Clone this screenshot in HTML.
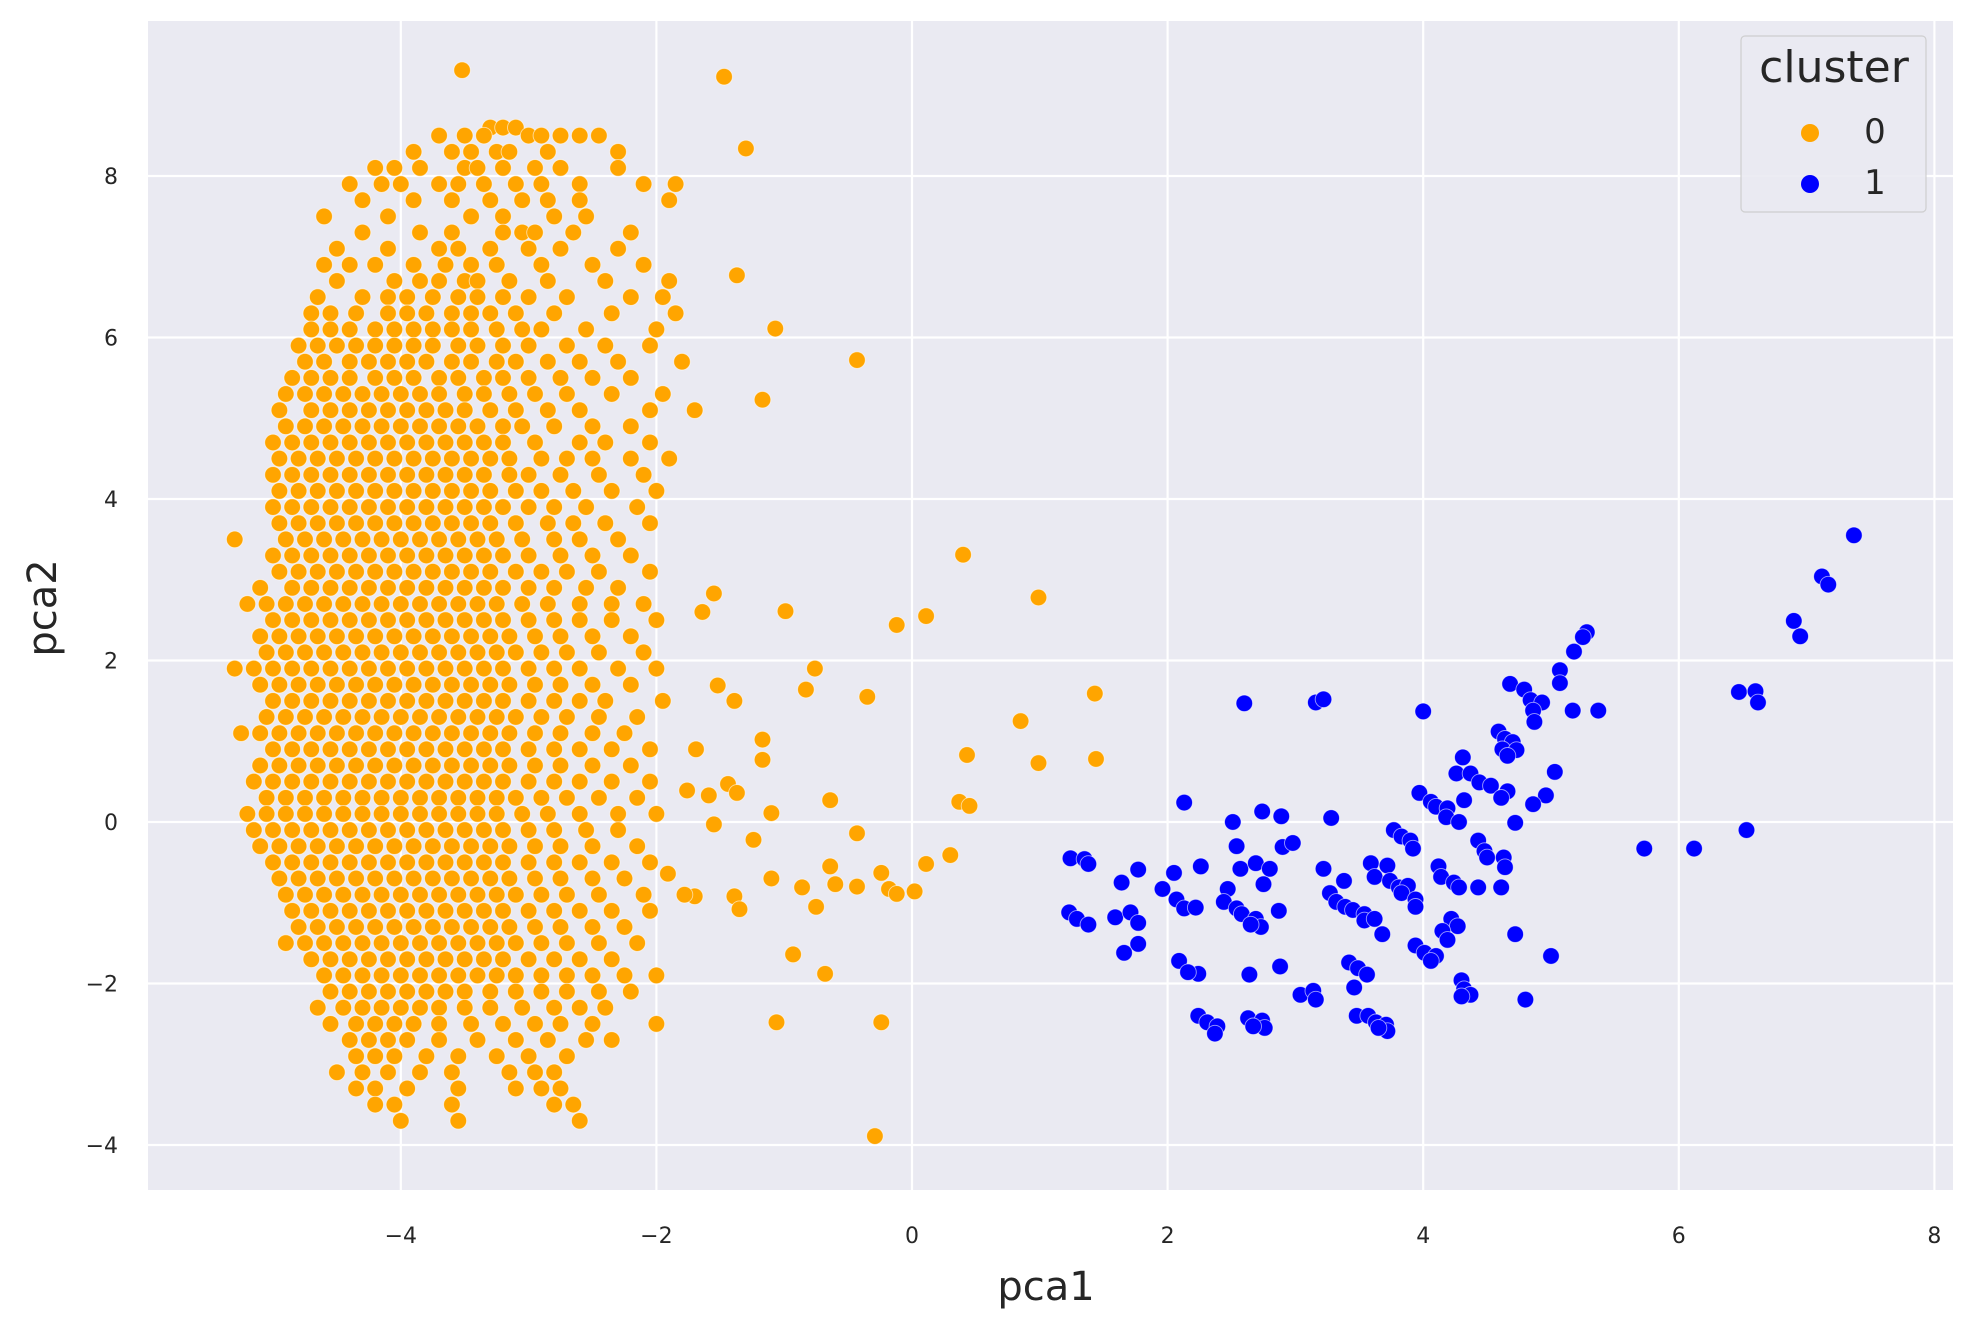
<!DOCTYPE html>
<html><head><meta charset="utf-8"><style>
html,body{margin:0;padding:0;background:#fff;}
svg{display:block;}
text{font-family:"DejaVu Sans","Liberation Sans",sans-serif;fill:#262626;}
</style></head><body>
<svg id="chart" width="1972" height="1323" viewBox="0 0 1972 1323" xmlns="http://www.w3.org/2000/svg">
<rect x="148" y="21" width="1805" height="1169" fill="#EAEAF2"/>
<g id="grid"></g>
<g id="xticks"></g>
<g id="yticks"></g>
<g id="marks"></g>
<text x="1046" y="1300" font-size="40" text-anchor="middle">pca1</text>
<text x="0" y="0" font-size="40" text-anchor="middle" transform="translate(56,608) rotate(-90)">pca2</text>
<g>
<rect x="1741" y="36" width="185" height="176" rx="4" fill="#EAEAF2" stroke="#cccccc" stroke-width="1.2" opacity="0.9"/>
<text x="1834" y="82" font-size="44" text-anchor="middle">cluster</text>
<g><circle cx="1810" cy="133" r="9" fill="#FFA500"/><text x="1875" y="143" font-size="34" text-anchor="middle">0</text></g>
<g><circle cx="1810" cy="184" r="9" fill="#0000FF"/><text x="1875" y="194" font-size="34" text-anchor="middle">1</text></g>
</g>
</svg>
<script>
const xTicks = [-4,-2,0,2,4,6,8];
const yTicks = [-4,-2,0,2,4,6,8];
const orangeRows = [
[8.6,[-3.3,-3.2,-3.1]],
[8.5,[-3.7,-3.5,-3.35,-3.0,-2.9,-2.75,-2.6,-2.45]],
[8.3,[-3.9,-3.6,-3.45,-3.25,-3.15,-2.85,-2.3]],
[8.1,[-4.2,-4.05,-3.85,-3.5,-3.4,-3.2,-2.95,-2.75,-2.3]],
[7.9,[-4.4,-4.15,-4.0,-3.7,-3.55,-3.35,-3.1,-2.9,-2.6,-2.1,-1.85]],
[7.7,[-4.3,-3.9,-3.6,-3.3,-3.05,-2.85,-2.6,-1.9]],
[7.5,[-4.6,-4.1,-3.45,-3.2,-2.8,-2.55]],
[7.3,[-4.3,-3.85,-3.6,-3.2,-3.05,-2.95,-2.65,-2.2]],
[7.1,[-4.5,-4.1,-3.7,-3.55,-3.3,-3.0,-2.75,-2.3]],
[6.9,[-4.6,-4.4,-4.2,-3.9,-3.65,-3.45,-3.25,-2.9,-2.5,-2.1]],
[6.7,[-4.5,-4.05,-3.85,-3.7,-3.5,-3.4,-3.15,-2.85,-2.4,-1.9]],
[6.5,[-4.65,-4.3,-4.1,-3.95,-3.75,-3.55,-3.4,-3.2,-3.0,-2.7,-2.2,-1.95]],
[6.3,[-4.7,-4.55,-4.35,-4.1,-3.95,-3.8,-3.6,-3.45,-3.3,-3.1,-2.8,-2.35,-1.85]],
[6.1,[-4.7,-4.55,-4.4,-4.2,-4.05,-3.9,-3.75,-3.6,-3.45,-3.25,-3.05,-2.9,-2.55,-2.0]],
[5.9,[-4.8,-4.65,-4.5,-4.35,-4.2,-4.05,-3.9,-3.75,-3.55,-3.4,-3.2,-3.0,-2.7,-2.4,-2.05]],
[5.7,[-4.75,-4.6,-4.4,-4.25,-4.1,-3.95,-3.8,-3.6,-3.45,-3.25,-3.1,-2.85,-2.6,-2.3,-1.8]],
[5.5,[-4.85,-4.7,-4.55,-4.4,-4.2,-4.05,-3.9,-3.7,-3.55,-3.35,-3.2,-3.0,-2.75,-2.5,-2.2]],
[5.3,[-4.9,-4.75,-4.6,-4.45,-4.3,-4.15,-4.0,-3.85,-3.7,-3.5,-3.35,-3.15,-2.95,-2.7,-2.35,-1.95]],
[5.1,[-4.95,-4.7,-4.55,-4.4,-4.25,-4.1,-3.95,-3.8,-3.65,-3.5,-3.3,-3.1,-2.85,-2.6,-2.05,-1.7]],
[4.9,[-4.9,-4.75,-4.6,-4.45,-4.3,-4.15,-4.0,-3.85,-3.7,-3.55,-3.4,-3.2,-3.05,-2.8,-2.5,-2.2]],
[4.7,[-5.0,-4.85,-4.7,-4.55,-4.4,-4.25,-4.1,-3.95,-3.8,-3.65,-3.5,-3.35,-3.2,-2.95,-2.6,-2.4,-2.05]],
[4.5,[-4.95,-4.8,-4.65,-4.5,-4.35,-4.2,-4.05,-3.9,-3.75,-3.6,-3.45,-3.3,-3.15,-2.9,-2.7,-2.5,-2.2,-1.9]],
[4.3,[-5.0,-4.85,-4.7,-4.55,-4.4,-4.25,-4.1,-3.95,-3.8,-3.65,-3.5,-3.35,-3.15,-3.0,-2.75,-2.45,-2.1]],
[4.1,[-4.95,-4.8,-4.65,-4.5,-4.35,-4.2,-4.05,-3.9,-3.75,-3.6,-3.45,-3.3,-3.1,-2.9,-2.65,-2.35,-2.0]],
[3.9,[-5.0,-4.85,-4.7,-4.55,-4.4,-4.25,-4.1,-3.95,-3.8,-3.65,-3.5,-3.35,-3.2,-3.0,-2.8,-2.55,-2.15]],
[3.7,[-4.95,-4.8,-4.65,-4.5,-4.35,-4.2,-4.05,-3.9,-3.75,-3.6,-3.45,-3.3,-3.1,-2.85,-2.65,-2.4,-2.05]],
[3.5,[-5.3,-4.9,-4.75,-4.6,-4.45,-4.3,-4.15,-4.0,-3.85,-3.7,-3.55,-3.4,-3.25,-3.05,-2.8,-2.6,-2.3]],
[3.3,[-5.0,-4.85,-4.7,-4.55,-4.4,-4.25,-4.1,-3.95,-3.8,-3.65,-3.5,-3.35,-3.2,-3.0,-2.75,-2.5,-2.2]],
[3.1,[-4.95,-4.8,-4.65,-4.5,-4.35,-4.2,-4.05,-3.9,-3.75,-3.6,-3.45,-3.3,-3.1,-2.9,-2.7,-2.45,-2.05]],
[2.9,[-5.1,-4.85,-4.7,-4.55,-4.4,-4.25,-4.1,-3.95,-3.8,-3.65,-3.5,-3.35,-3.2,-3.0,-2.8,-2.55,-2.3]],
[2.7,[-5.2,-5.05,-4.9,-4.75,-4.6,-4.45,-4.3,-4.15,-4.0,-3.85,-3.7,-3.55,-3.4,-3.25,-3.05,-2.85,-2.6,-2.35,-2.1]],
[2.5,[-5.0,-4.85,-4.7,-4.55,-4.4,-4.25,-4.1,-3.95,-3.8,-3.65,-3.5,-3.35,-3.2,-3.0,-2.8,-2.6,-2.35,-2.0]],
[2.3,[-5.1,-4.95,-4.8,-4.65,-4.5,-4.35,-4.2,-4.05,-3.9,-3.75,-3.6,-3.45,-3.3,-3.15,-2.95,-2.75,-2.5,-2.2]],
[2.1,[-5.05,-4.9,-4.75,-4.6,-4.45,-4.3,-4.15,-4.0,-3.85,-3.7,-3.55,-3.4,-3.25,-3.1,-2.9,-2.7,-2.45,-2.1]],
[1.9,[-5.3,-5.15,-5.0,-4.85,-4.7,-4.55,-4.4,-4.25,-4.1,-3.95,-3.8,-3.65,-3.5,-3.35,-3.2,-3.0,-2.8,-2.6,-2.3,-2.0]],
[1.7,[-5.1,-4.95,-4.8,-4.65,-4.5,-4.35,-4.2,-4.05,-3.9,-3.75,-3.6,-3.45,-3.3,-3.15,-2.95,-2.75,-2.5,-2.2]],
[1.5,[-5.0,-4.85,-4.7,-4.55,-4.4,-4.25,-4.1,-3.95,-3.8,-3.65,-3.5,-3.35,-3.2,-3.0,-2.8,-2.6,-2.4,-1.95]],
[1.3,[-5.05,-4.9,-4.75,-4.6,-4.45,-4.3,-4.15,-4.0,-3.85,-3.7,-3.55,-3.4,-3.25,-3.1,-2.9,-2.7,-2.45,-2.15]],
[1.1,[-5.25,-5.1,-4.95,-4.8,-4.65,-4.5,-4.35,-4.2,-4.05,-3.9,-3.75,-3.6,-3.45,-3.3,-3.15,-2.95,-2.75,-2.5,-2.25]],
[0.9,[-5.0,-4.85,-4.7,-4.55,-4.4,-4.25,-4.1,-3.95,-3.8,-3.65,-3.5,-3.35,-3.2,-3.0,-2.8,-2.6,-2.35,-2.05]],
[0.7,[-5.1,-4.95,-4.8,-4.65,-4.5,-4.35,-4.2,-4.05,-3.9,-3.75,-3.6,-3.45,-3.3,-3.15,-2.95,-2.75,-2.5,-2.2]],
[0.5,[-5.15,-5.0,-4.85,-4.7,-4.55,-4.4,-4.25,-4.1,-3.95,-3.8,-3.65,-3.5,-3.35,-3.2,-3.0,-2.8,-2.6,-2.35,-2.05]],
[0.3,[-5.05,-4.9,-4.75,-4.6,-4.45,-4.3,-4.15,-4.0,-3.85,-3.7,-3.55,-3.4,-3.25,-3.1,-2.9,-2.7,-2.45,-2.15]],
[0.1,[-5.2,-5.05,-4.9,-4.75,-4.6,-4.45,-4.3,-4.15,-4.0,-3.85,-3.7,-3.55,-3.4,-3.25,-3.05,-2.85,-2.6,-2.3,-2.0]],
[-0.1,[-5.15,-5.0,-4.85,-4.7,-4.55,-4.4,-4.25,-4.1,-3.95,-3.8,-3.65,-3.5,-3.35,-3.2,-3.0,-2.8,-2.55,-2.3]],
[-0.3,[-5.1,-4.95,-4.8,-4.65,-4.5,-4.35,-4.2,-4.05,-3.9,-3.75,-3.6,-3.45,-3.3,-3.15,-2.95,-2.75,-2.5,-2.15]],
[-0.5,[-5.0,-4.85,-4.7,-4.55,-4.4,-4.25,-4.1,-3.95,-3.8,-3.65,-3.5,-3.35,-3.2,-3.0,-2.8,-2.6,-2.35,-2.05]],
[-0.7,[-4.95,-4.8,-4.65,-4.5,-4.35,-4.2,-4.05,-3.9,-3.75,-3.6,-3.45,-3.3,-3.15,-2.95,-2.75,-2.5,-2.25]],
[-0.9,[-4.9,-4.75,-4.6,-4.45,-4.3,-4.15,-4.0,-3.85,-3.7,-3.55,-3.4,-3.25,-3.1,-2.9,-2.7,-2.45,-2.1]],
[-1.1,[-4.85,-4.7,-4.55,-4.4,-4.25,-4.1,-3.95,-3.8,-3.65,-3.5,-3.35,-3.2,-3.0,-2.8,-2.6,-2.35,-2.05]],
[-1.3,[-4.8,-4.65,-4.5,-4.35,-4.2,-4.05,-3.9,-3.75,-3.6,-3.45,-3.3,-3.15,-2.95,-2.75,-2.5,-2.25]],
[-1.5,[-4.9,-4.75,-4.6,-4.45,-4.3,-4.15,-4.0,-3.85,-3.7,-3.55,-3.4,-3.25,-3.1,-2.9,-2.7,-2.45,-2.15]],
[-1.7,[-4.7,-4.55,-4.4,-4.25,-4.1,-3.95,-3.8,-3.65,-3.5,-3.35,-3.2,-3.0,-2.8,-2.6,-2.35]],
[-1.9,[-4.6,-4.45,-4.3,-4.15,-4.0,-3.85,-3.7,-3.55,-3.4,-3.25,-3.1,-2.9,-2.7,-2.5,-2.25,-2.0]],
[-2.1,[-4.55,-4.4,-4.25,-4.1,-3.95,-3.8,-3.65,-3.5,-3.3,-3.1,-2.9,-2.7,-2.45,-2.2]],
[-2.3,[-4.65,-4.45,-4.3,-4.15,-4.0,-3.85,-3.7,-3.5,-3.3,-3.05,-2.8,-2.6,-2.4]],
[-2.5,[-4.55,-4.35,-4.2,-4.05,-3.9,-3.7,-3.45,-3.2,-2.95,-2.75,-2.5,-2.0]],
[-2.7,[-4.4,-4.25,-4.1,-3.95,-3.7,-3.4,-3.1,-2.85,-2.55,-2.35]],
[-2.9,[-4.35,-4.2,-4.05,-3.8,-3.55,-3.25,-3.0,-2.7]],
[-3.1,[-4.5,-4.3,-4.1,-3.85,-3.6,-3.15,-2.95,-2.8]],
[-3.3,[-4.35,-4.2,-3.95,-3.55,-3.1,-2.9,-2.75]],
[-3.5,[-4.2,-4.05,-3.6,-2.8,-2.65]],
[-3.7,[-4.0,-3.55,-2.6]]
];
const orangeOutliers = [
[-1.47,9.23],[-1.3,8.34],[-3.52,9.31],[-1.37,6.77],[-1.07,6.11],[-1.17,5.23],[-0.43,5.72],[0.40,3.31],[0.99,2.78],[-0.99,2.61],[-0.12,2.44],[0.11,2.55],[-0.76,1.9],[-0.83,1.64],[-0.35,1.55],[-1.55,2.83],[-1.64,2.6],[-1.52,1.69],[-1.39,1.5],[-1.17,1.02],[-1.17,0.77],[-1.69,0.9],[0.85,1.25],[1.43,1.59],[0.43,0.83],[0.99,0.73],[1.44,0.78],[-1.76,0.39],[-1.59,0.33],[-1.44,0.47],[-1.37,0.36],[-1.1,0.11],[-0.64,0.27],[0.37,0.25],[0.45,0.2],[-1.55,-0.03],[-1.24,-0.22],[-0.43,-0.14],[0.3,-0.41],[0.11,-0.52],[-0.64,-0.55],[-1.1,-0.7],[-0.6,-0.77],[-0.24,-0.63],[-0.18,-0.83],[-0.12,-0.89],[0.02,-0.86],[-0.86,-0.81],[-0.75,-1.05],[-0.43,-0.8],[-1.7,-0.92],[-1.39,-0.92],[-1.35,-1.08],[-1.91,-0.64],[-0.93,-1.64],[-0.68,-1.88],[-1.06,-2.48],[-0.24,-2.48],[-0.29,-3.89],[-1.78,-0.9]
];
const bluePoints = [
[7.37,3.55],[7.12,3.04],[7.17,2.94],[6.90,2.49],[6.95,2.30],[5.28,2.35],[5.25,2.29],[5.18,2.11],[5.07,1.88],[5.07,1.72],
[4.68,1.71],[4.79,1.64],[4.84,1.51],[4.93,1.48],[4.86,1.38],[4.87,1.24],[5.17,1.38],[5.37,1.38],[6.47,1.61],[6.60,1.62],[6.62,1.48],
[2.60,1.47],[3.16,1.48],[3.22,1.52],[4.00,1.37],[4.59,1.12],[4.64,1.03],[4.70,0.99],[4.62,0.90],[4.73,0.89],[4.66,0.82],
[4.31,0.80],[4.26,0.60],[4.37,0.60],[4.44,0.49],[4.53,0.45],[4.66,0.38],[4.61,0.30],[5.03,0.62],[4.96,0.33],[4.86,0.22],
[3.97,0.36],[4.06,0.25],[4.10,0.19],[4.19,0.17],[4.18,0.06],[4.28,0.00],[4.32,0.27],[4.72,-0.01],[2.13,0.24],
[2.51,0.0],[2.74,0.13],[2.89,0.07],[3.28,0.05],[3.77,-0.10],[3.83,-0.18],[3.90,-0.23],[3.92,-0.33],[2.54,-0.30],[2.90,-0.31],[2.98,-0.26],
[4.43,-0.23],[4.48,-0.36],[4.50,-0.44],[4.63,-0.44],[4.64,-0.56],[1.24,-0.45],[1.35,-0.46],[1.38,-0.52],[1.77,-0.59],[1.64,-0.75],
[2.05,-0.63],[2.26,-0.55],[2.57,-0.58],[2.69,-0.51],[2.80,-0.58],[2.75,-0.77],[3.22,-0.58],[3.38,-0.73],[3.59,-0.51],[3.72,-0.54],[3.62,-0.68],[3.74,-0.73],[3.81,-0.81],[3.88,-0.79],
[4.12,-0.55],[4.14,-0.68],[4.24,-0.75],[4.28,-0.81],[4.43,-0.81],[4.61,-0.81],[1.96,-0.83],[2.07,-0.96],[2.13,-1.07],[2.22,-1.06],
[2.47,-0.83],[2.44,-0.99],[2.54,-1.07],[2.58,-1.14],[2.69,-1.20],[2.73,-1.30],[2.65,-1.27],[2.87,-1.10],
[3.27,-0.88],[3.32,-0.99],[3.39,-1.05],[3.45,-1.09],[3.54,-1.14],[3.54,-1.22],[3.62,-1.20],[3.68,-1.39],[3.83,-0.88],[3.94,-0.96],[3.94,-1.05],
[1.23,-1.12],[1.29,-1.20],[1.38,-1.27],[1.59,-1.18],[1.71,-1.12],[1.77,-1.25],[1.77,-1.51],[1.66,-1.62],
[4.22,-1.20],[4.27,-1.29],[4.15,-1.35],[4.19,-1.46],[3.94,-1.53],[4.01,-1.62],[4.10,-1.66],[4.06,-1.72],[4.72,-1.39],[5.00,-1.66],
[2.09,-1.72],[2.24,-1.88],[2.16,-1.86],[2.64,-1.89],[2.88,-1.79],[3.42,-1.74],[3.49,-1.81],[3.56,-1.89],[3.46,-2.05],
[4.30,-1.96],[4.32,-2.07],[4.37,-2.14],[4.30,-2.16],[3.04,-2.14],[3.14,-2.09],[3.16,-2.20],[4.80,-2.20],
[2.24,-2.40],[2.31,-2.48],[2.39,-2.53],[2.37,-2.62],[2.63,-2.43],[2.74,-2.46],[2.76,-2.55],[2.67,-2.53],
[3.48,-2.40],[3.57,-2.40],[3.63,-2.48],[3.71,-2.51],[3.72,-2.59],[3.65,-2.55],[5.73,-0.33],[6.12,-0.33],[6.53,-0.10]
];

const NS = 'http://www.w3.org/2000/svg';
const X0 = 912, XU = 127.8, Y0 = 822, YU = 80.75;
function sx(v){ return X0 + v*XU; }
function sy(v){ return Y0 - v*YU; }
const grid = document.getElementById('grid');
const xt = document.getElementById('xticks');
const yt = document.getElementById('yticks');
function fmt(v){ return v < 0 ? '\u2212' + Math.abs(v) : String(v); }
xTicks.forEach(function(v){
  const l = document.createElementNS(NS,'line');
  l.setAttribute('x1', sx(v)); l.setAttribute('x2', sx(v));
  l.setAttribute('y1', 21); l.setAttribute('y2', 1190);
  l.setAttribute('stroke','#ffffff'); l.setAttribute('stroke-width','2.2');
  
  
  grid.appendChild(l);
  const t = document.createElementNS(NS,'text');
  t.setAttribute('x', sx(v)); t.setAttribute('y', 1243);
  t.setAttribute('font-size','22'); t.setAttribute('text-anchor','middle');
  t.textContent = fmt(v);
  
  
  xt.appendChild(t);
});
yTicks.forEach(function(v){
  const l = document.createElementNS(NS,'line');
  l.setAttribute('y1', sy(v)); l.setAttribute('y2', sy(v));
  l.setAttribute('x1', 148); l.setAttribute('x2', 1953);
  l.setAttribute('stroke','#ffffff'); l.setAttribute('stroke-width','2.2');
  
  
  grid.appendChild(l);
  const t = document.createElementNS(NS,'text');
  t.setAttribute('x', 118); t.setAttribute('y', sy(v) + 8);
  t.setAttribute('font-size','22'); t.setAttribute('text-anchor','end');
  t.textContent = fmt(v);
  
  
  yt.appendChild(t);
});
const marks = document.getElementById('marks');
function dot(x, y, color, name){
  const c = document.createElementNS(NS,'circle');
  c.setAttribute('cx', sx(x).toFixed(1));
  c.setAttribute('cy', sy(y).toFixed(1));
  c.setAttribute('r', '8.3');
  c.setAttribute('fill', color);
  c.setAttribute('stroke', '#ffffff');
  c.setAttribute('stroke-width', '0.9');
  c.setAttribute('stroke-opacity', '0.6');
  
  
  marks.appendChild(c);
}
orangeRows.forEach(function(row){
  row[1].forEach(function(x){ dot(x, row[0], '#FFA500', 'cluster-0-point'); });
});
orangeOutliers.forEach(function(p){ dot(p[0], p[1], '#FFA500', 'cluster-0-point'); });
bluePoints.forEach(function(p){ dot(p[0], p[1], '#0000FF', 'cluster-1-point'); });
</script>
</body></html>
